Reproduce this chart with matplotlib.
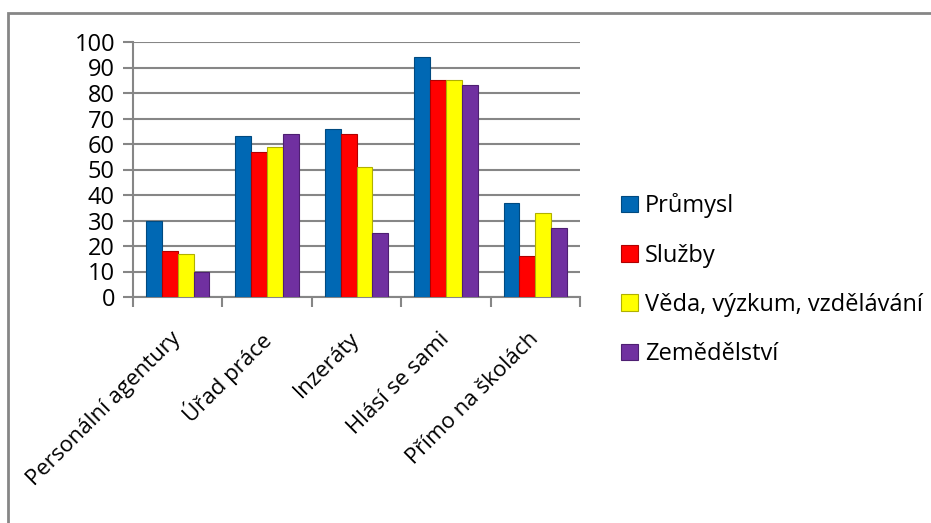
import matplotlib
matplotlib.use("Agg")
import matplotlib.pyplot as plt
import matplotlib.transforms as mtransforms
import numpy as np
from matplotlib.patches import Rectangle

plt.rcParams["font.family"] = ["Open Sans", "DejaVu Sans"]

categories = ["Personální agentury", "Úřad práce", "Inzeráty", "Hlásí se sami", "Přímo na školách"]
series_names = ["Průmysl", "Služby", "Věda, výzkum, vzdělávání", "Zemědělství"]
prumysl = [30, 63, 66, 94, 37]
sluzby = [18, 57, 64, 85, 16]
veda = [17, 59, 51, 85, 33]
zemedelstvi = [10, 64, 25, 83, 27]
y_ticks = list(range(0, 101, 10))

colors = ["#0068B4", "#FF0000", "#FFFF00", "#7030A0"]
edges = ["#004A80", "#B00000", "#B0B000", "#4E1F72"]

fig = plt.figure(figsize=(9.31, 5.23), dpi=100)
fig.patches.append(Rectangle((8 / 931, -0.1), 1.2, 1 - 13 / 523 + 0.1, transform=fig.transFigure,
                             fill=False, edgecolor="#868686", linewidth=2))
ax = fig.add_axes([133 / 931, 1 - 297 / 523, (580 - 133) / 931, (297 - 42) / 523])

x = np.arange(len(categories))
width = 0.177
for i, vals in enumerate([prumysl, sluzby, veda, zemedelstvi]):
    ax.bar(x - 1.5 * width + i * width, vals, width, color=colors[i], edgecolor=edges[i],
           linewidth=0.8, label=series_names[i], zorder=3)

ax.set_xlim(-0.5, len(categories) - 0.5)
ax.set_ylim(0, 100)
ax.set_yticks(y_ticks)
ax.set_yticklabels([str(v) for v in y_ticks], fontsize=17)
ax.yaxis.grid(True, color="#868686", linewidth=1.5, zorder=0)
ax.set_axisbelow(True)

ax.set_xticks(np.arange(-0.5, len(categories), 1.0))
ax.set_xticklabels([])
ax.set_xticks(x, minor=True)
ax.set_xticklabels(categories, minor=True, rotation=45, ha="right", va="center",
                   rotation_mode="anchor", fontsize=16)
shift = mtransforms.ScaledTranslation(-9 / 100, 0, fig.dpi_scale_trans)
for lab in ax.get_xticklabels(minor=True):
    lab.set_transform(lab.get_transform() + shift)
ax.tick_params(axis="x", which="minor", length=0, pad=28)
ax.tick_params(axis="x", which="major", length=7, width=1.5, color="#868686")
ax.tick_params(axis="y", length=7, width=1.5, color="#868686", pad=6)

for side in ["top", "right"]:
    ax.spines[side].set_visible(False)
for side in ["left", "bottom"]:
    ax.spines[side].set_color("#868686")
    ax.spines[side].set_linewidth(1.5)

fig.legend(loc="upper left", bbox_to_anchor=(612 / 931, 1 - 184 / 523), frameon=False,
           fontsize=17, handlelength=0.7, handleheight=0.7, handletextpad=0.3,
           labelspacing=1.07, borderaxespad=0)

fig.savefig("out.png", dpi=100)
